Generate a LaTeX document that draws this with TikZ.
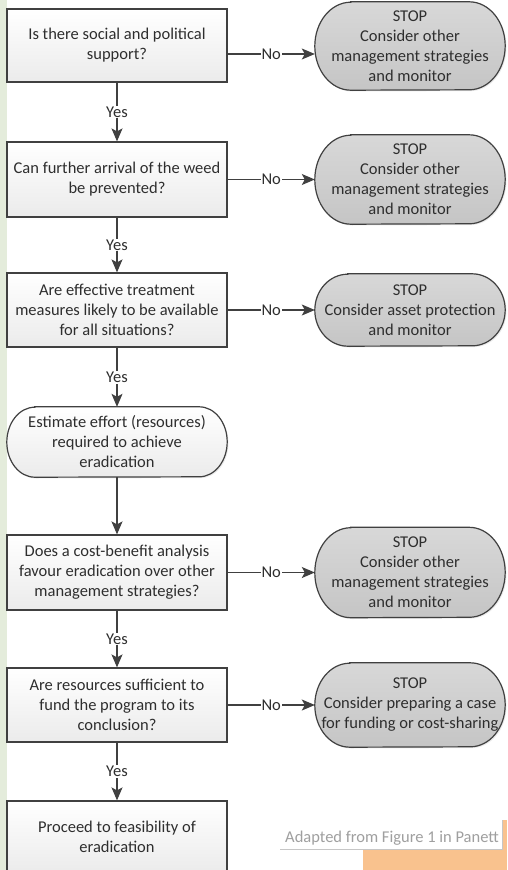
\documentclass[tikz,border=0pt]{standalone}
\usepackage{fontspec}
\setmainfont{Carlito}
\usetikzlibrary{arrows.meta,shadows,backgrounds}
\definecolor{ink}{HTML}{2E2E2E}
\definecolor{edge}{HTML}{404040}
\definecolor{leaf}{HTML}{E4ECDB}
\definecolor{peach}{HTML}{F9C28E}
\definecolor{stoptop}{HTML}{D8D8D8}
\definecolor{stopbot}{HTML}{C5C5C5}
\definecolor{boxbot}{HTML}{EBEBEB}

% capsule outline around a rectangular node: node, end radius, half height, style
\newcommand\capsule[4]{%
  \path[#4] ([xshift=#2]#1.north west) -- ([xshift=-#2]#1.north east)
    arc[start angle=90, end angle=-90, x radius=#2, y radius=#3]
    -- ([xshift=#2]#1.south west)
    arc[start angle=270, end angle=90, x radius=#2, y radius=#3] -- cycle;}

\begin{document}
\begin{tikzpicture}[x=1pt,y=-1pt,
  every node/.style={font=\fontsize{16.5}{20}\selectfont, text=ink},
  softshadow/.style={drop shadow={opacity=0.16, shadow xshift=1.3pt, shadow yshift=-1.3pt}},
  qbox/.style={rectangle, draw=edge, line width=1.2pt, minimum width=220pt,
    align=center, top color=white, bottom color=boxbot, softshadow},
  holder/.style={rectangle, inner sep=0pt, align=center},
  termline/.style={draw=edge, line width=1.2pt, top color=white, bottom color=boxbot, softshadow},
  stopline/.style={draw=edge, line width=1.2pt, top color=stoptop, bottom color=stopbot, softshadow},
  arr/.style={draw=edge, line width=1.2pt, -{Stealth[length=13pt,width=11pt,inset=3pt]}},
  lbl/.style={fill=white, inner sep=1pt}
]
\useasboundingbox (0,0) rectangle (507,870);

% decision column
\node[qbox, minimum height=73pt] (b1) at (117,45.5) {Is there social and political\\support?};
\node[qbox, minimum height=75pt] (b2) at (117,179.5) {Can further arrival of the weed\\be prevented?};
\node[qbox, minimum height=74pt] (b3) at (117,310) {Are effective treatment\\measures likely to be available\\for all situations?};
\node[holder, minimum width=220pt, minimum height=70pt] (t4) at (117,442) {Estimate effort (resources)\\required to achieve\\eradication};
\node[qbox, minimum height=75pt] (b5) at (117,572.5) {Does a cost-benefit analysis\\favour eradication over other\\management strategies?};
\node[qbox, minimum height=74pt] (b6) at (117,705) {Are resources sufficient to\\fund the program to its\\conclusion?};
\node[qbox, minimum height=72pt] (b7) at (117,837) {Proceed to feasibility of\\eradication};

% stop outcomes
\node[holder, minimum width=190pt, minimum height=88pt] (s1) at (410,46) {STOP\\Consider other\\management strategies\\and monitor};
\node[holder, minimum width=190pt, minimum height=89pt] (s2) at (410,179.5) {STOP\\Consider other\\management strategies\\and monitor};
\node[holder, minimum width=190pt, minimum height=72pt] (s3) at (410,310) {STOP\\Consider asset protection\\and monitor};
\node[holder, minimum width=190pt, minimum height=90pt] (s5) at (410,572.5) {STOP\\Consider other\\management strategies\\and monitor};
\node[holder, minimum width=190pt, minimum height=84pt] (s6) at (410,705) {STOP\\Consider preparing a case\\for funding or cost-sharing};

% page ground and rounded outlines behind the text
\begin{pgfonlayer}{background}
  \fill[white] (0,0) rectangle (507,870);
  \fill[leaf] (0,0) rectangle (7,870);
  \capsule{t4}{28pt}{35pt}{termline}
  \capsule{s1}{36pt}{44pt}{stopline}
  \capsule{s2}{36pt}{44.5pt}{stopline}
  \capsule{s3}{33pt}{36pt}{stopline}
  \capsule{s5}{36pt}{45pt}{stopline}
  \capsule{s6}{35pt}{42pt}{stopline}
\end{pgfonlayer}

% yes path
\draw[arr] (b1) -- node[lbl]{Yes} (b2);
\draw[arr] (b2) -- node[lbl]{Yes} (b3);
\draw[arr] (b3) -- node[lbl]{Yes} (t4);
\draw[arr] (t4) -- (b5);
\draw[arr] (b5) -- node[lbl]{Yes} (b6);
\draw[arr] (b6) -- node[lbl]{Yes} (b7);

% no branches
\draw[arr] ([yshift=-8.5pt]b1.east) -- node[lbl]{No} ([yshift=-8.5pt]b1.east -| s1.west);
\draw[arr] (b2) -- node[lbl]{No} (s2);
\draw[arr] (b3) -- node[lbl]{No} (s3);
\draw[arr] (b5) -- node[lbl]{No} (s5);
\draw[arr] (b6) -- node[lbl]{No} (s6);

% source note
\fill[peach] (363,850) rectangle (507,870);
\fill[peach] (502,820) rectangle (507,870);
\fill[white] (280,821) rectangle (502,849);
\draw[gray!45, line width=1pt] (280,849.5) -- (502.5,849.5) -- (502.5,820);
\begin{scope}
  \clip (280,815) rectangle (502,849);
  \node[anchor=west, text=gray!75!white, inner sep=0pt] (note) at (285,838) {Adapted from Figure 1 in Panett};
\end{scope}
\end{tikzpicture}
\end{document}
